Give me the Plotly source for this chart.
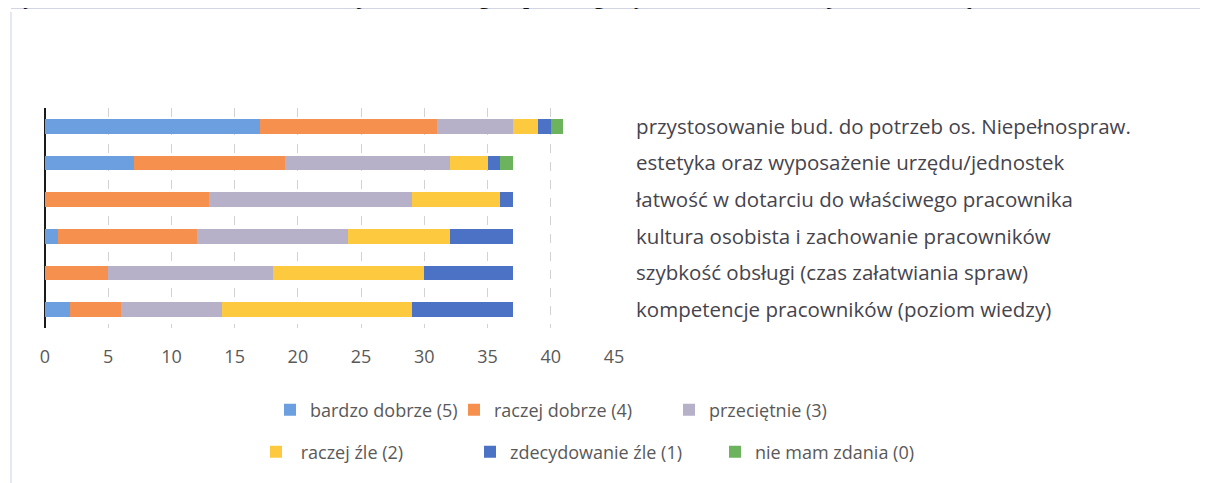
import plotly.graph_objects as go

categories = [
    "przystosowanie bud. do potrzeb os. Niepełnospraw.",
    "estetyka oraz wyposażenie urzędu/jednostek",
    "łatwość w dotarciu do właściwego pracownika",
    "kultura osobista i zachowanie pracowników",
    "szybkość obsługi (czas załatwiania spraw)",
    "kompetencje pracowników (poziom wiedzy)",
]

series_names = [
    "bardzo dobrze (5)",
    "raczej dobrze (4)",
    "przeciętnie (3)",
    " raczej źle (2)",
    "zdecydowanie źle (1)",
    "nie mam zdania (0)",
]

bardzo_dobrze = [17, 7, 0, 1, 0, 2]
raczej_dobrze = [14, 12, 13, 11, 5, 4]
przecietnie = [6, 13, 16, 12, 13, 8]
raczej_zle = [2, 3, 7, 8, 12, 15]
zdecydowanie_zle = [1, 1, 1, 5, 7, 8]
nie_mam_zdania = [1, 1, 0, 0, 0, 0]

x_ticks = [0, 5, 10, 15, 20, 25, 30, 35, 40, 45]

title_text = "Wykres nr 9: Zadowolenie klientów z jakości obsługi w poszczególnych obszarach funkcjonowania urzędu"

values = [bardzo_dobrze, raczej_dobrze, przecietnie, raczej_zle, zdecydowanie_zle, nie_mam_zdania]
colors = ["#6b9fe0", "#f5904f", "#b6b0c8", "#fdca3f", "#4b72c4", "#6db35e"]

OFF = 8                 # page body margin
W, H = 1208 - OFF, 483 - OFF
L, R = 45 - OFF, 614 - OFF      # plot area pixel bounds (x) in figure coords
T, B = 108 - OFF, 328 - OFF     # plot area pixel bounds (y) in figure coords


def px_x(p):
    """screen x pixel -> paper x"""
    return (p - OFF - L) / (R - L)


def px_y(p):
    """screen y pixel -> paper y"""
    return (B - (p - OFF)) / (B - T)


# legend text start positions (screen px) and row centre (screen px)
legend_pos = [(310, 410), (494, 410), (709, 410), (296, 452), (510, 452), (755, 452)]

fig = go.Figure()
for i, (name, vals, col) in enumerate(zip(series_names, values, colors)):
    lname = "legend" if i == 0 else f"legend{i+1}"
    fig.add_trace(go.Bar(
        y=categories, x=vals, name=name, orientation="h",
        marker=dict(color=col, line=dict(width=0)),
        legend=lname,
    ))

font_family = "'Open Sans', Lato, sans-serif"
layout_legends = {}
for i, (tx, ty) in enumerate(legend_pos):
    lname = "legend" if i == 0 else f"legend{i+1}"
    layout_legends[lname] = dict(
        x=px_x(tx - 40), y=px_y(ty), xref="paper", yref="paper",
        xanchor="left", yanchor="middle",
        orientation="h", bgcolor="rgba(0,0,0,0)", borderwidth=0,
        font=dict(family=font_family, size=18, color="#595959"),
        itemclick=False, itemdoubleclick=False,
        tracegroupgap=0,
    )

fig.update_layout(
    width=W, height=H,
    margin=dict(l=L, r=W - R, t=T, b=H - B, autoexpand=False),
    paper_bgcolor="white", plot_bgcolor="white",
    barmode="stack", bargap=0.6,
    showlegend=True,
    **layout_legends,
    xaxis=dict(
        range=[0, 45], tickvals=x_ticks, ticktext=[str(v) for v in x_ticks],
        showgrid=True, gridcolor="#d2d2d2", griddash="dash", gridwidth=1,
        zeroline=True, zerolinecolor="#1a1a1a", zerolinewidth=2,
        showline=False, ticks="outside", ticklen=12, tickcolor="rgba(0,0,0,0)",
        tickfont=dict(family=font_family, size=18, color="#595959"),
        fixedrange=True, automargin=False,
    ),
    yaxis=dict(
        autorange="reversed", side="right", showgrid=False, zeroline=False,
        showline=False, ticks="outside", ticklen=17, tickcolor="rgba(0,0,0,0)",
        tickfont=dict(family=font_family, size=20.5, color="#45444d"),
        fixedrange=True, automargin=False,
    ),
    shapes=[
        dict(type="line", xref="paper", yref="paper",
             x0=px_x(11), x1=px_x(11), y0=px_y(12), y1=px_y(490),
             line=dict(color="#cdd1de", width=1)),
        dict(type="line", xref="paper", yref="paper",
             x0=px_x(11), x1=px_x(1210), y0=px_y(8.5), y1=px_y(8.5),
             line=dict(color="#d3d6e2", width=1)),
    ],
    annotations=[
        dict(text="<b>" + title_text + "</b>", xref="paper", yref="paper",
             x=px_x(0), y=px_y(11), xanchor="left", yanchor="bottom",
             showarrow=False,
             font=dict(family="'Liberation Serif', 'Times New Roman', serif", size=22, color="#111111")),
    ],
)

fig.write_html("out.html")
